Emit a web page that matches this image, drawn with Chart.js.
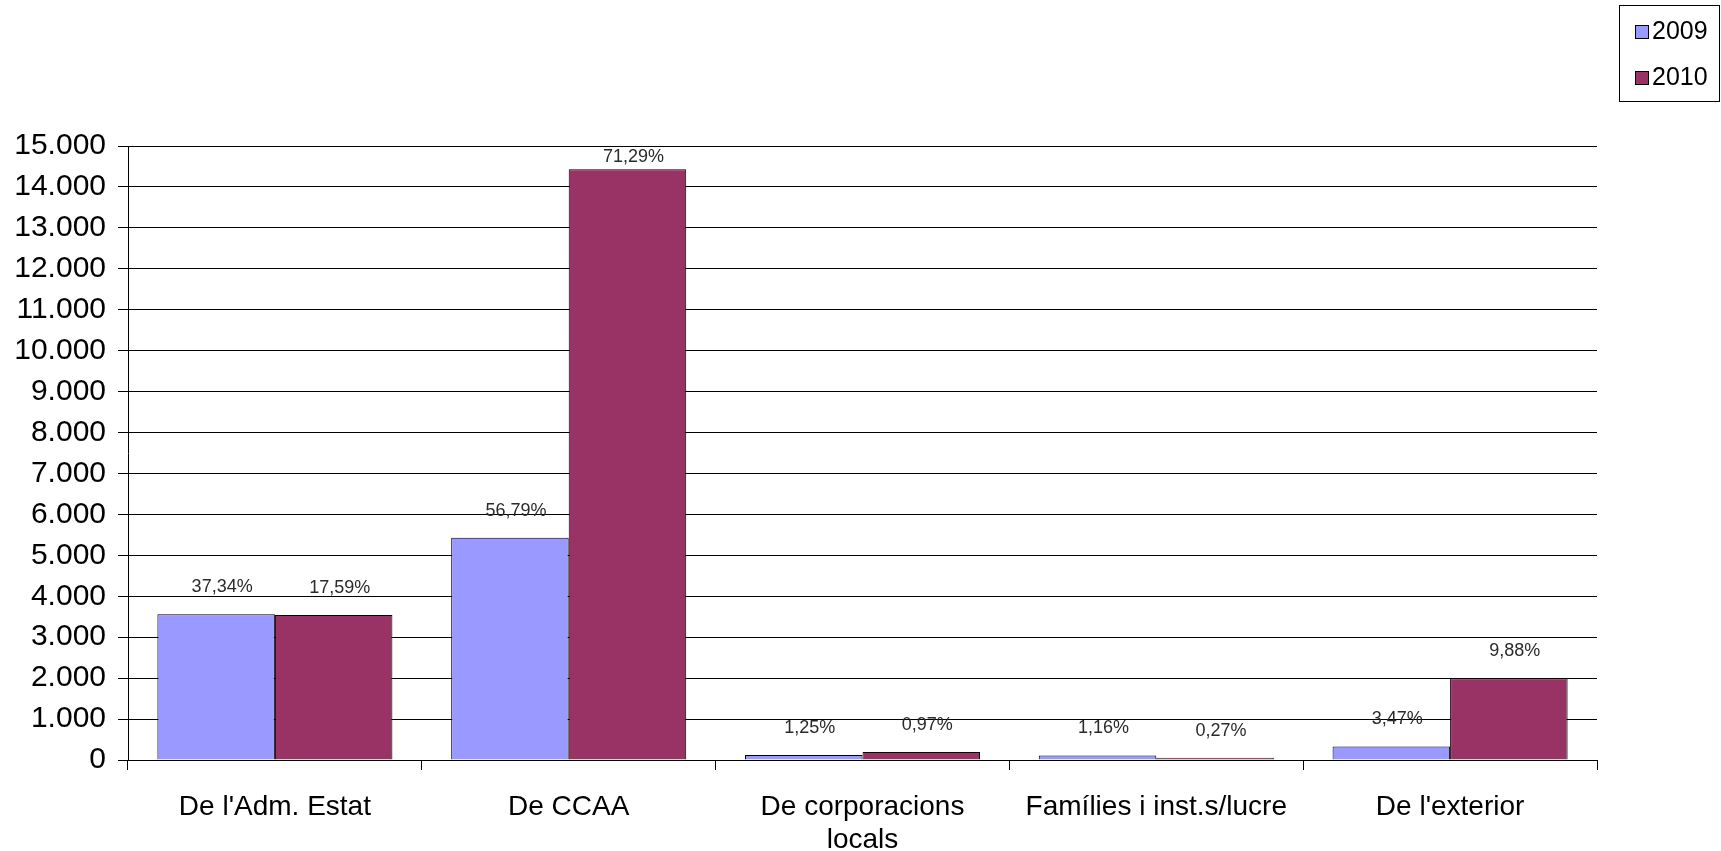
<!DOCTYPE html>
<html>
<head>
<meta charset="utf-8">
<script src="https://cdn.jsdelivr.net/npm/chart.js@4.4.1/dist/chart.umd.min.js"></script>
<style>
  body { margin: 0; background: #fff; }
  #wrap { width: 1721px; height: 851px; }
</style>
</head>
<body>
<div id="wrap"><canvas id="grafica" width="1721" height="851"></canvas></div>
<script>
// Dades
const categories = [
  "De l'Adm. Estat",
  "De CCAA",
  ["De corporacions", "locals"],
  "Famílies i inst.s/lucre",
  "De l'exterior"
];
const series = ["2009", "2010"];
const valors2009 = [3560, 5430, 120, 111, 332];
const valors2010 = [3540, 14430, 196, 55, 2000];
const percent2009 = ["37,34%", "56,79%", "1,25%", "1,16%", "3,47%"];
const percent2010 = ["17,59%", "71,29%", "0,97%", "0,27%", "9,88%"];
const yTicks = [0, 1000, 2000, 3000, 4000, 5000, 6000, 7000, 8000, 9000, 10000, 11000, 12000, 13000, 14000, 15000];

const colors = ["#9999ff", "#993366"];

function formatMiles(v) {
  return String(v).replace(/\B(?=(\d{3})+(?!\d))/g, ".");
}

// etiquetes de percentatge sobre les barres
const etiquetesPlugin = {
  id: "etiquetes",
  afterDatasetsDraw(chart) {
    const ctx = chart.ctx;
    const area = chart.chartArea;
    const textos = [percent2009, percent2010];
    ctx.save();
    ctx.font = "18px 'Liberation Sans', Arial, sans-serif";
    ctx.fillStyle = "#2a2a2a";
    ctx.textAlign = "center";
    ctx.textBaseline = "middle";
    chart.data.datasets.forEach((ds, i) => {
      chart.getDatasetMeta(i).data.forEach((bar, j) => {
        const y = Math.max(bar.y - 27, area.top + 11);
        ctx.fillText(textos[i][j], bar.x + 6, y);
      });
    });
    ctx.restore();
  }
};

// llegenda amb requadre
const llegendaPlugin = {
  id: "llegenda",
  afterDraw(chart) {
    const ctx = chart.ctx;
    ctx.save();
    ctx.strokeStyle = "#000";
    ctx.lineWidth = 1;
    ctx.strokeRect(1619.5, 5.5, 100, 96);
    ctx.font = "25px 'Liberation Sans', Arial, sans-serif";
    ctx.textBaseline = "middle";
    ctx.textAlign = "left";
    chart.data.datasets.forEach((ds, i) => {
      const cy = 32 + i * 46;
      ctx.fillStyle = ds.backgroundColor;
      ctx.fillRect(1635, cy - 7, 14, 14);
      ctx.strokeRect(1635.5, cy - 6.5, 13, 13);
      ctx.fillStyle = "#000";
      ctx.fillText(ds.label, 1652, cy);
    });
    ctx.restore();
  }
};

const fondoPlugin = {
  id: "fondo",
  beforeDraw(chart) {
    const ctx = chart.ctx;
    ctx.save();
    ctx.fillStyle = "#fff";
    ctx.fillRect(0, 0, chart.width, chart.height);
    ctx.restore();
  }
};

new Chart(document.getElementById("grafica"), {
  type: "bar",
  data: {
    labels: categories,
    datasets: [
      {
        label: series[0],
        data: valors2009,
        backgroundColor: colors[0],
        borderColor: "#000",
        borderWidth: 1,
        categoryPercentage: 0.8,
        barPercentage: 1.0
      },
      {
        label: series[1],
        data: valors2010,
        backgroundColor: colors[1],
        borderColor: "#000",
        borderWidth: 1,
        categoryPercentage: 0.8,
        barPercentage: 1.0
      }
    ]
  },
  options: {
    responsive: false,
    animation: false,
    layout: { padding: { top: 146, right: 124, left: 0, bottom: 0 } },
    plugins: {
      legend: { display: false },
      tooltip: { enabled: false }
    },
    scales: {
      x: {
        grid: {
          offset: true,
          drawOnChartArea: false,
          drawTicks: true,
          tickLength: 10,
          color: "#000"
        },
        border: { color: "#000", width: 1 },
        ticks: {
          color: "#000",
          padding: 21,
          maxRotation: 0,
          autoSkip: false,
          font: { family: "'Liberation Sans', Arial, sans-serif", size: 28, lineHeight: 1.18 }
        },
        afterFit(scale) { scale.height = 91; }
      },
      y: {
        min: 0,
        max: 15000,
        afterBuildTicks(scale) {
          scale.ticks = yTicks.map(v => ({ value: v }));
        },
        grid: {
          color: "#000",
          lineWidth: 1,
          tickLength: 10
        },
        border: { color: "#000", width: 1 },
        ticks: {
          color: "#000",
          padding: 12,
          callback: v => formatMiles(v),
          font: { family: "'Liberation Sans', Arial, sans-serif", size: 30 }
        },
        afterFit(scale) { scale.width = 128; }
      }
    }
  },
  plugins: [fondoPlugin, etiquetesPlugin, llegendaPlugin]
});
</script>
</body>
</html>
